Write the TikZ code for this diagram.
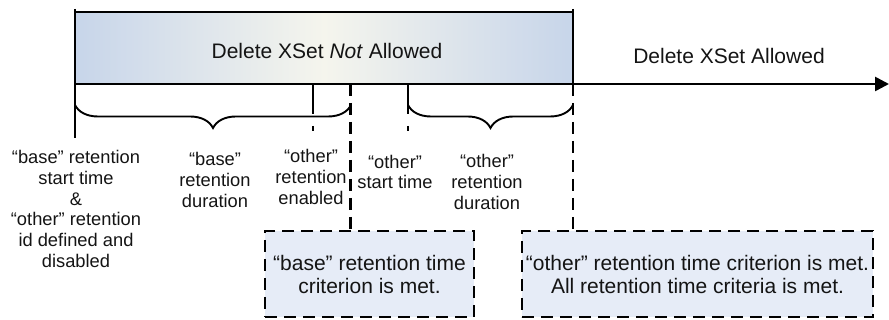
\documentclass[tikz,border=0pt]{standalone}
\usepackage{fontspec}
\setmainfont{Liberation Sans}
\usetikzlibrary{arrows.meta,decorations.pathreplacing,calc}
\definecolor{gradside}{RGB}{199,213,234}
\definecolor{gradmid}{RGB}{245,245,237}
\definecolor{critfill}{RGB}{230,236,247}
\definecolor{txt}{RGB}{20,20,20}
\begin{document}
\begin{tikzpicture}[x=1pt,y=-1pt,
  lbl/.style={font=\fontsize{18.3}{20.8}\selectfont, align=center, inner sep=0pt, text=txt},
  big/.style={font=\fontsize{21}{23}\selectfont, inner sep=0pt, text=txt},
  solidln/.style={line width=2pt},
  dsh/.style={line width=2.7pt, dash pattern=on 12pt off 7pt},
  dshdot/.style={line width=2.7pt, dash pattern=on 30pt off 12pt on 5pt off 12pt},
  crit/.style={draw, line width=2.7pt, dash pattern=on 12pt off 7pt, fill=critfill,
    align=center, font=\fontsize{21}{23}\selectfont, text=txt, inner sep=0pt},
  brc/.style={decorate, decoration={brace, mirror, amplitude=23pt}, line width=1.9pt}
]
\useasboundingbox (0,0) rectangle (889,320);

% shaded "not allowed" band
\node[draw, line width=2pt, minimum width=498pt, minimum height=72pt,
  left color=gradside, right color=gradside, middle color=gradmid, inner sep=0pt]
  (band) at (324,48) {};
\node[big, anchor=base] (title) at (327,59) {Delete XSet \textit{Not} Allowed};
\node[big, anchor=base] (allowed) at (729,64) {Delete XSet Allowed};

% key coordinates
\coordinate (top0) at (75,9);
\coordinate (bot0) at (75,138);
\coordinate (origin) at (75,84);
\coordinate (axisend) at (889,84);
\coordinate (topE) at (573,9);
\coordinate (mE) at (573,84);
\coordinate (mEnable) at (313,84);
\coordinate (mEnableEnd) at (313,140);
\coordinate (mBase) at (350.5,84);
\coordinate (mOther) at (408,84);
\coordinate (mOtherEnd) at (408,140);
\coordinate (b1s) at (75,105);
\coordinate (b1e) at (351,105);
\coordinate (b2s) at (408,105);
\coordinate (b2e) at (573,105);

% criterion boxes
\node[crit, minimum width=209pt, minimum height=86pt] (crit1) at (369.5,274)
  {“base” retention time\\criterion is met.};
\node[crit, minimum width=351pt, minimum height=86pt] (crit2) at (697.5,274)
  {“other” retention time criterion is met.\\All retention time criteria is met.};

% vertical markers
\draw[solidln] (top0) -- (bot0);
\draw[solidln] (topE) -- (mE);
\draw[dshdot] (mEnable) -- (mEnableEnd);
\draw[dshdot] (mOther) -- (mOtherEnd);
\draw[dsh] (mBase) -- (crit1.north -| mBase);
\draw[dsh] (mE) -- (crit2.north -| mE);

% time axis
\draw[line width=2.6pt, -{Triangle[length=14pt,width=14pt]}] (origin) -- (axisend);

% braces
\draw[brc] (b1s) -- (b1e);
\draw[brc] (b2s) -- (b2e);

% labels
\node[lbl] (lstart) at (76,209) {“base” retention\\start time\\\&\\“other” retention\\id defined and\\disabled};
\node[lbl] (lbasedur) at (215,180) {“base”\\retention\\duration};
\node[lbl] (lenable) at (311,177) {“other”\\retention\\enabled};
\node[lbl] (lostart) at (395,172) {“other”\\start time};
\node[lbl] (lodur) at (487,182) {“other”\\retention\\duration};
\end{tikzpicture}
\end{document}
